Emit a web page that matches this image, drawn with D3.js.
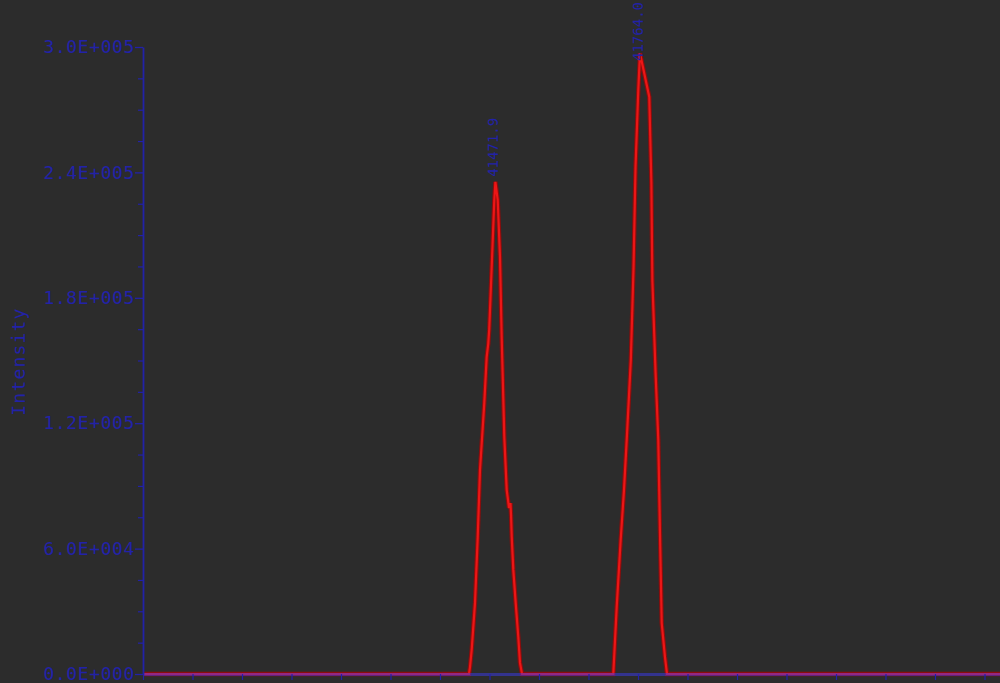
<!DOCTYPE html>
<html>
<head>
<meta charset="utf-8">
<script src="https://cdnjs.cloudflare.com/ajax/libs/d3/7.8.5/d3.min.js"></script>
<style>
    html, body { margin: 0; padding: 0; background: #2c2c2c; overflow: hidden; }
    svg { display: block; }
</style>
</head>
<body>
<div id="chart"></div>
<script>
// deconvoluted mass spectrum

var massValues = [
    40760, 41418.6, 41420.6, 41424.0, 41430.7, 41436.2, 41440.8, 41449.5, 41454.3,
    41457.5, 41459.5, 41462.0, 41469.7, 41471.9, 41476.6, 41481.2, 41484.6, 41489.9,
    41494.8, 41497.4, 41499.4, 41502.4, 41503.5, 41504.9, 41508.1, 41512.9, 41518.2,
    41521.6, 41525.7,
    41710.1, 41717.0, 41720.2, 41725.0, 41731.7, 41737.2, 41745.5, 41751.0, 41755.0,
    41760.6, 41764.0, 41782.8, 41787.0, 41789.0, 41795.5, 41801.0, 41804.4, 41807.9,
    41814.5, 41818.6, 42500
];

var intensityValues = [
    0, 0, 3300, 11500, 34000, 65500, 97600, 129700, 151700,
    158000, 165000, 180000, 226800, 235500, 226800, 199500, 161200, 113400,
    88000, 83300, 79400, 81800, 76100, 65500, 49800, 34000, 17700,
    5300, 0,
    0, 32100, 45000, 64100, 88000, 112000, 150200, 194700, 242600,
    279400, 297000, 276100, 234900, 188500, 144000, 112000, 67500, 24400,
    8100, 0, 0
];

var peakLabels = [
    {mass: 41471.9, intensity: 235500, text: "41471.9"},
    {mass: 41764.0, intensity: 297000, text: "41764.0"}
];

var yTickValues = [0, 60000, 120000, 180000, 240000, 300000];
var yTickLabels = ["0.0E+000", "6.0E+004", "1.2E+005", "1.8E+005", "2.4E+005", "3.0E+005"];
var xTickStart = 40760,
    xTickStep = 100;

var width = 1000,
    height = 683,
    margin = {top: 47, left: 143, bottom: 9},
    axisColor = "#2222a8",
    lineColor = "#ec1616",
    monoFont = "'DejaVu Sans Mono', 'Liberation Mono', monospace";

var svg = d3.select("#chart").append("svg")
    .attr("width", width)
    .attr("height", height)
    .style("background", "#2c2c2c");

// scales
var x = d3.scaleLinear()
    .domain([40760, 42500])
    .range([margin.left, margin.left + 1740 * 0.495]);

var y = d3.scaleLinear()
    .domain([0, 300000])
    .range([height - margin.bottom, margin.top]);

// spectrum line, dark edge under a bright core
var line = d3.line()
    .x(function(d) { return x(d[0]); })
    .y(function(d) { return y(d[1]); });

var points = massValues.map(function(m, i) { return [m, intensityValues[i]]; });

svg.append("path")
    .datum(points)
    .attr("fill", "none")
    .attr("stroke", "#8a0d0d")
    .attr("stroke-width", 4.4)
    .attr("d", line);

svg.append("path")
    .datum(points)
    .attr("fill", "none")
    .attr("stroke", lineColor)
    .attr("stroke-width", 2.2)
    .attr("d", line);

// x axis, ticks only (labels are below the picture)
var xTicks = d3.range(xTickStart, 42500, xTickStep);

var xAxis = svg.append("g")
    .attr("transform", "translate(0," + y(0) + ")")
    .call(d3.axisBottom(x).tickValues(xTicks).tickFormat("").tickSize(6).tickSizeOuter(0));

xAxis.select(".domain")
    .attr("stroke", "#3a3aee")
    .attr("stroke-width", 3)
    .attr("stroke-opacity", 0.5);
xAxis.selectAll(".tick line")
    .attr("stroke", axisColor)
    .attr("stroke-width", 1.2);

// y axis with minor ticks
var minorTicks = d3.range(0, 300001, 15000).filter(function(v) { return v % 60000 !== 0; });

svg.append("g")
    .attr("transform", "translate(" + margin.left + ",0)")
    .call(d3.axisLeft(y).tickValues(minorTicks).tickFormat("").tickSize(5).tickSizeOuter(0))
    .call(function(g) { g.select(".domain").remove(); })
    .selectAll(".tick line")
    .attr("stroke", axisColor)
    .attr("stroke-width", 1.2);

var yAxis = svg.append("g")
    .attr("transform", "translate(" + margin.left + ",0)")
    .call(d3.axisLeft(y)
        .tickValues(yTickValues)
        .tickFormat(function(d, i) { return yTickLabels[i]; })
        .tickSize(8)
        .tickSizeOuter(0)
        .tickPadding(0));

yAxis.select(".domain")
    .attr("stroke", axisColor)
    .attr("stroke-width", 1.8);
yAxis.selectAll(".tick line")
    .attr("stroke", axisColor)
    .attr("stroke-width", 1.3);
yAxis.selectAll(".tick text")
    .attr("fill", axisColor)
    .style("font-family", monoFont)
    .style("font-size", "18px")
    .style("letter-spacing", "0.6px");

// y axis title
svg.append("text")
    .attr("transform", "translate(25," + ((y(0) + y(300000)) / 2 + 1) + ") rotate(-90)")
    .attr("text-anchor", "middle")
    .attr("fill", axisColor)
    .style("font-family", monoFont)
    .style("font-size", "18px")
    .style("letter-spacing", "1.2px")
    .text("Intensity");

// peak labels, pushed down when they would run off the top
var labelFontSize = 14,
    labelCharWidth = labelFontSize * 0.602;

svg.selectAll(".peakLabel")
    .data(peakLabels)
    .enter().append("text")
    .attr("class", "peakLabel")
    .attr("transform", function(d) {
        var ly = Math.max(y(d.intensity) - 5, d.text.length * labelCharWidth + 2);
        return "translate(" + (x(d.mass) + 3) + "," + ly + ") rotate(-90)";
    })
    .attr("text-anchor", "start")
    .attr("fill", axisColor)
    .style("font-family", monoFont)
    .style("font-size", labelFontSize + "px")
    .text(function(d) { return d.text; });
</script>
</body>
</html>
